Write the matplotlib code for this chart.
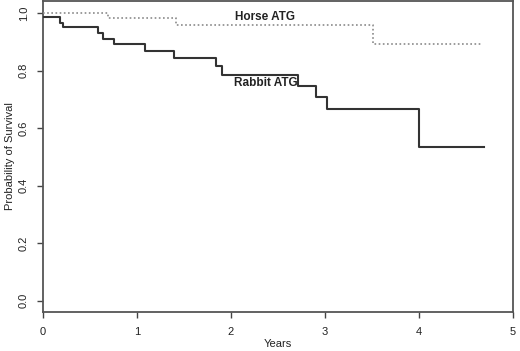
import matplotlib
matplotlib.use("Agg")
import matplotlib.pyplot as plt

plt.rcParams["font.family"] = ["Liberation Sans", "DejaVu Sans"]

# Kaplan-Meier curves (years, survival)
rabbit_t = [0, 0.18, 0.21, 0.58, 0.64, 0.75, 1.09, 1.39, 1.84, 1.90, 2.71, 2.90, 3.02, 4.00, 4.69]
rabbit_s = [0.988, 0.967, 0.950, 0.930, 0.910, 0.894, 0.867, 0.845, 0.815, 0.786, 0.748, 0.707, 0.667, 0.535, 0.535]

horse_t = [0, 0.69, 1.41, 3.51, 4.67]
horse_s = [1.0, 0.982, 0.960, 0.893, 0.893]

xticks = [0, 1, 2, 3, 4, 5]
yticks = [0.0, 0.2, 0.4, 0.6, 0.8, 1.0]

fig = plt.figure(figsize=(5.2, 3.51), dpi=100)
ax = fig.add_axes([0.0827, 0.111, 0.9038, 0.886])

ax.step(horse_t, horse_s, where="post", color="#8a8a8a", lw=1.2, ls=(0, (1, 1.5)), zorder=3)
ax.step(rabbit_t, rabbit_s, where="post", color="#333333", lw=1.5, zorder=3)

ax.text(2.36, 0.988, "Horse ATG", ha="center", va="center", fontsize=8.5,
        fontweight="bold", color="#222222", zorder=2)
ax.text(2.37, 0.758, "Rabbit ATG", ha="center", va="center", fontsize=8.5,
        fontweight="bold", color="#222222", zorder=2)

ax.set_xlim(0, 5)
ax.set_ylim(-0.04, 1.042)
ax.set_xticks(xticks)
ax.set_xticklabels([str(v) for v in xticks])
ax.set_yticks(yticks)
ax.set_yticklabels(["%.1f" % v for v in yticks], rotation=90, va="center")
ax.tick_params(axis="both", labelsize=8, length=4, width=1, color="#444444",
               labelcolor="#222222")
ax.tick_params(axis="y", pad=6)
ax.tick_params(axis="x", pad=7)

for s in ax.spines.values():
    s.set_color("#555555")
    s.set_linewidth(1.3)

ax.set_xlabel("Years", fontsize=8, color="#222222", labelpad=1)
ax.set_ylabel("Probability of Survival", fontsize=8, color="#222222", labelpad=3)

fig.savefig("out.png", dpi=100)
